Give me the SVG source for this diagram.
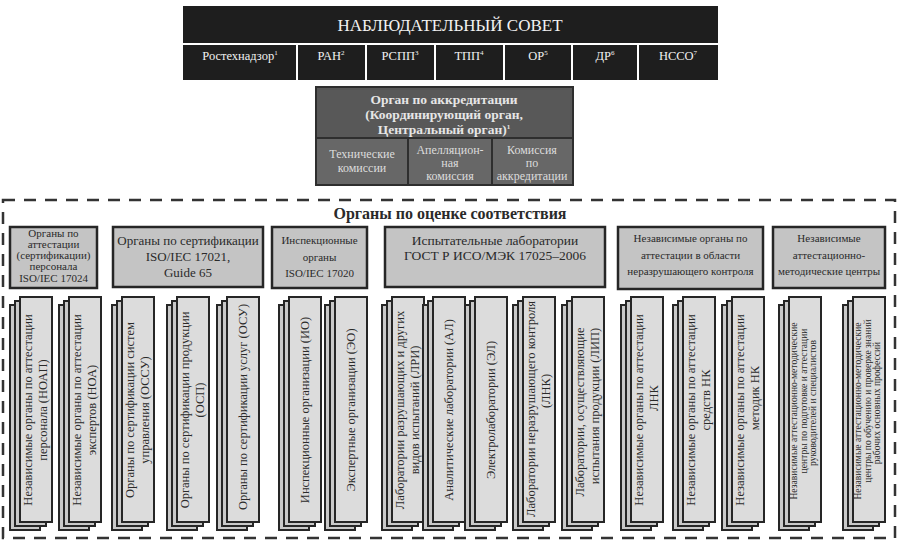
<svg xmlns="http://www.w3.org/2000/svg" width="901" height="547" viewBox="0 0 901 547">
<style>
text{font-family:"Liberation Serif","DejaVu Serif",serif}
.wt{fill:#f2f2f2;text-anchor:middle}
.mt{fill:#e6e6e6;text-anchor:middle;font-weight:bold}
.st{fill:#dcdcdc;text-anchor:middle;font-size:12px}
.ht{fill:#2a2a2a;text-anchor:middle}
.ct{fill:#2a2a2a;text-anchor:middle;font-size:12.5px}
.ct.sm{font-size:9.6px}
.hdr{fill:#c4c4c4;stroke:#262626;stroke-width:2.5}
.cf{fill:#dcdcdc;stroke:#262626;stroke-width:2}
.cb{fill:#c9c9c9;stroke:#262626;stroke-width:2}
.wl{stroke:#ffffff;stroke-width:2}
</style>
<defs>
<g id="stack">
<rect class="cb" x="-10" y="8" width="30" height="225"/>
<rect class="cb" x="-5" y="4" width="31" height="225"/>
<rect class="cf" x="0" y="0" width="32" height="225"/>
</g>
</defs>

<g id="council">
<rect x="183" y="6" width="535" height="74" fill="#1e1e1e"/>
<line class="wl" x1="183" y1="44" x2="718" y2="44"/>
<line class="wl" x1="297" y1="44" x2="297" y2="80"/>
<line class="wl" x1="366" y1="44" x2="366" y2="80"/>
<line class="wl" x1="435" y1="44" x2="435" y2="80"/>
<line class="wl" x1="504" y1="44" x2="504" y2="80"/>
<line class="wl" x1="572" y1="44" x2="572" y2="80"/>
<line class="wl" x1="638" y1="44" x2="638" y2="80"/>
<text class="wt" x="450" y="31" font-size="17">НАБЛЮДАТЕЛЬНЫЙ СОВЕТ</text>
<text class="wt" x="240" y="60" font-size="12.5">Ростехнадзор<tspan font-size="7" dy="-5">1</tspan></text>
<text class="wt" x="331" y="60" font-size="12.5">РАН<tspan font-size="7" dy="-5">2</tspan></text>
<text class="wt" x="400" y="60" font-size="12.5">РСПП<tspan font-size="7" dy="-5">3</tspan></text>
<text class="wt" x="469" y="60" font-size="12.5">ТПП<tspan font-size="7" dy="-5">4</tspan></text>
<text class="wt" x="538" y="60" font-size="12.5">ОР<tspan font-size="7" dy="-5">5</tspan></text>
<text class="wt" x="605" y="60" font-size="12.5">ДР<tspan font-size="7" dy="-5">6</tspan></text>
<text class="wt" x="678" y="60" font-size="12.5">НССО<tspan font-size="7" dy="-5">7</tspan></text>
</g>

<g id="accreditation">
<rect x="316" y="87" width="257" height="98" fill="#585858" stroke="#2e2e2e" stroke-width="2"/>
<text class="mt" x="444" y="104" font-size="13.5">Орган по аккредитации</text>
<text class="mt" x="444" y="119" font-size="13.5">(Координирующий орган,</text>
<text class="mt" x="444" y="134" font-size="13.5">Центральный орган)<tspan font-size="7" dy="-5">1</tspan></text>
<rect x="316" y="138" width="92" height="47" fill="#676767" stroke="#2e2e2e" stroke-width="2"/>
<rect x="408" y="138" width="84" height="47" fill="#676767" stroke="#2e2e2e" stroke-width="2"/>
<rect x="492" y="138" width="81" height="47" fill="#676767" stroke="#2e2e2e" stroke-width="2"/>
<text class="st" x="362" y="158">Технические</text>
<text class="st" x="362" y="172">комиссии</text>
<text class="st" x="450" y="154">Апелляцион-</text>
<text class="st" x="450" y="167">ная</text>
<text class="st" x="450" y="180">комиссия</text>
<text class="st" x="532" y="154">Комиссия</text>
<text class="st" x="532" y="167">по</text>
<text class="st" x="532" y="180">аккредитации</text>
</g>

<g id="conformity">
<rect x="3" y="200" width="892" height="338" fill="none" stroke="#333" stroke-width="2.5" stroke-dasharray="12 9"/>
<text x="450" y="219" font-size="16" font-weight="bold" fill="#2a2a2a" text-anchor="middle">Органы по оценке соответствия</text>
</g>

<g id="h-personnel">
<rect class="hdr" x="10" y="227" width="87" height="61"/>
<text class="ht" x="53.5" y="237" font-size="11">Органы по</text>
<text class="ht" x="53.5" y="248" font-size="11">аттестации</text>
<text class="ht" x="53.5" y="259" font-size="11">(сертификации)</text>
<text class="ht" x="53.5" y="270" font-size="11">персонала</text>
<text class="ht" x="53.5" y="282" font-size="11">ISO/IEC 17024</text>
</g>
<g id="h-cert">
<rect class="hdr" x="113" y="227" width="150" height="60"/>
<text class="ht" x="188" y="245" font-size="13">Органы по сертификации</text>
<text class="ht" x="188" y="261" font-size="13">ISO/IEC 17021,</text>
<text class="ht" x="188" y="277" font-size="13">Guide 65</text>
</g>
<g id="h-insp">
<rect class="hdr" x="272" y="227" width="95" height="61"/>
<text class="ht" x="319.5" y="244" font-size="11">Инспекционные</text>
<text class="ht" x="319.5" y="261" font-size="11">органы</text>
<text class="ht" x="319.5" y="277" font-size="11">ISO/IEC 17020</text>
</g>
<g id="h-labs">
<rect class="hdr" x="385" y="227" width="220" height="60"/>
<text class="ht" x="495" y="245" font-size="13.5">Испытательные лаборатории</text>
<text class="ht" x="495" y="260" font-size="13.5">ГОСТ Р ИСО/МЭК 17025–2006</text>
</g>
<g id="h-ndt">
<rect class="hdr" x="618" y="227" width="145" height="62"/>
<text class="ht" x="690.5" y="242" font-size="11">Независимые органы по</text>
<text class="ht" x="690.5" y="259" font-size="11">аттестации в области</text>
<text class="ht" x="690.5" y="275" font-size="11">неразрушающего контроля</text>
</g>
<g id="h-centers">
<rect class="hdr" x="773" y="227" width="112" height="61"/>
<text class="ht" x="829" y="242" font-size="11">Независимые</text>
<text class="ht" x="829" y="259" font-size="11">аттестационно-</text>
<text class="ht" x="829" y="275" font-size="11">методические центры</text>
</g>

<g id="c-noap" transform="translate(20,297)">
<use href="#stack"/>
<text class="ct" transform="translate(12,113) rotate(-90)"><tspan x="0">Независимые органы по аттестации</tspan><tspan x="0" dy="15">персонала (НОАП)</tspan></text>
</g>
<g id="c-noa" transform="translate(69,297)">
<use href="#stack"/>
<text class="ct" transform="translate(12,113) rotate(-90)"><tspan x="0">Независимые органы по аттестации</tspan><tspan x="0" dy="15">экспертов (НОА)</tspan></text>
</g>
<g id="c-ossu" transform="translate(122,297)">
<use href="#stack"/>
<text class="ct" transform="translate(12,113) rotate(-90)"><tspan x="0">Органы по сертификации систем</tspan><tspan x="0" dy="15">управления (ОССУ)</tspan></text>
</g>
<g id="c-osp" transform="translate(177,297)">
<use href="#stack"/>
<text class="ct" transform="translate(12,113) rotate(-90)"><tspan x="0">Органы по сертификации продукции</tspan><tspan x="10" dy="15">(ОСП)</tspan></text>
</g>
<g id="c-osu" transform="translate(227,297)">
<use href="#stack"/>
<text class="ct" transform="translate(20,110) rotate(-90)">Органы по сертификации услуг (ОСУ)</text>
</g>
<g id="c-io" transform="translate(289,297)">
<use href="#stack"/>
<text class="ct" transform="translate(20,113) rotate(-90)">Инспекционные организации (ИО)</text>
</g>
<g id="c-eo" transform="translate(335,297)">
<use href="#stack"/>
<text class="ct" transform="translate(20,113) rotate(-90)">Экспертные организации (ЭО)</text>
</g>
<g id="c-lri" transform="translate(392,297)">
<use href="#stack"/>
<text class="ct" transform="translate(12,113) rotate(-90)"><tspan x="0">Лаборатории разрушающих и других</tspan><tspan x="0" dy="15">видов испытаний (ЛРИ)</tspan></text>
</g>
<g id="c-al" transform="translate(433,297)">
<use href="#stack"/>
<text class="ct" transform="translate(20,113) rotate(-90)">Аналитические лаборатории (АЛ)</text>
</g>
<g id="c-el" transform="translate(475,297)">
<use href="#stack"/>
<text class="ct" transform="translate(20,113) rotate(-90)">Электролаборатории (ЭЛ)</text>
</g>
<g id="c-lnk" transform="translate(523,297)">
<use href="#stack"/>
<text class="ct" transform="translate(12,112) rotate(-90)"><tspan x="0">Лаборатории неразрушающего контроля</tspan><tspan x="18" dy="15">(ЛНК)</tspan></text>
</g>
<g id="c-lip" transform="translate(572,297)">
<use href="#stack"/>
<text class="ct" transform="translate(12,115) rotate(-90)"><tspan x="0">Лаборатории, осуществляющие</tspan><tspan x="6" dy="15">испытания продукции (ЛИП)</tspan></text>
</g>
<g id="c-ndt-lnk" transform="translate(631,297)">
<use href="#stack"/>
<text class="ct" transform="translate(12,113) rotate(-90)"><tspan x="0">Независимые органы по аттестации</tspan><tspan x="12" dy="15">ЛНК</tspan></text>
</g>
<g id="c-ndt-means" transform="translate(683,297)">
<use href="#stack"/>
<text class="ct" transform="translate(12,113) rotate(-90)"><tspan x="0">Независимые органы по аттестации</tspan><tspan x="10" dy="15">средств НК</tspan></text>
</g>
<g id="c-ndt-methods" transform="translate(732,297)">
<use href="#stack"/>
<text class="ct" transform="translate(12,113) rotate(-90)"><tspan x="0">Независимые органы по аттестации</tspan><tspan x="12" dy="15">методик НК</tspan></text>
</g>
<g id="c-centers-mgr" transform="translate(789,297)">
<use href="#stack"/>
<text class="ct sm" transform="translate(8,114) rotate(-90)"><tspan x="0">Независимые аттестационно-методические</tspan><tspan x="10" dy="9.5">центры по подготовке и аттестации</tspan><tspan x="8" dy="9.5">руководителей и специалистов</tspan></text>
</g>
<g id="c-centers-workers" transform="translate(853,297)">
<use href="#stack"/>
<text class="ct sm" transform="translate(8,114) rotate(-90)"><tspan x="0">Независимые аттестационно-методические</tspan><tspan x="10" dy="9.5">центры по обучению и проверке знаний</tspan><tspan x="8" dy="9.5">рабочих основных профессий</tspan></text>
</g>
</svg>
